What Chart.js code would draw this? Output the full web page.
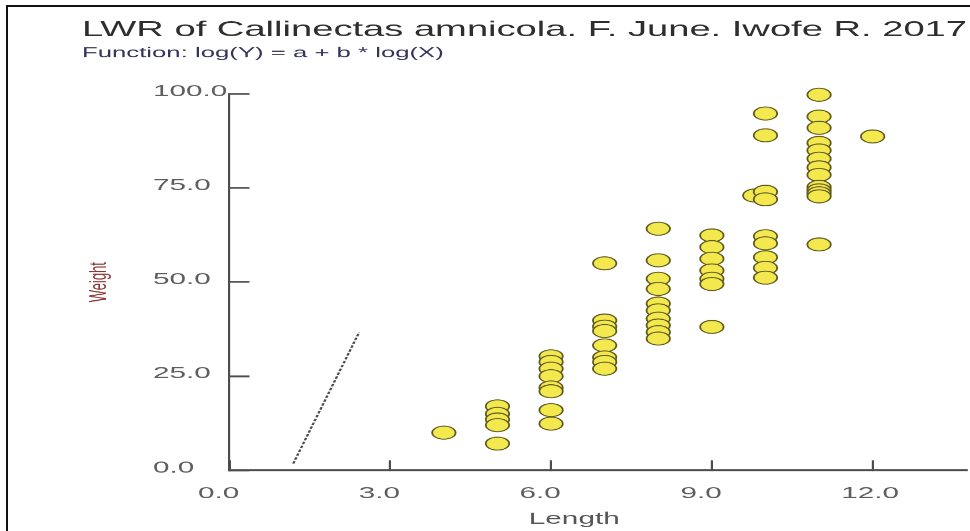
<!DOCTYPE html>
<html>
<head>
<meta charset="utf-8">
<title>LWR of Callinectas amnicola</title>
<script src="https://cdn.jsdelivr.net/npm/chart.js@4.4.1/dist/chart.umd.min.js"></script>
<style>
  html, body { margin: 0; padding: 0; background: #fff; }
  #stage { position: relative; width: 970px; height: 531px; overflow: hidden; }
  /* the chart is laid out in a narrower box and widened on screen */
  #plot { position: absolute; left: 0; top: 0; width: 970px !important; height: 531px !important; }
  #frame { position: absolute; left: 6px; top: 5px; width: 1100px; height: 700px;
           border-left: 2.5px solid #111; border-top: 2.5px solid #111; pointer-events: none; }
</style>
</head>
<body>
<div id="stage">
  <canvas id="plot" width="539" height="531"></canvas>
  <div id="frame"></div>
</div>
<script>
// Length classes (cm) and the weights (g) recorded in each class
const lengthClasses = [4, 5, 6, 7, 8, 9, 9.8, 10, 11, 12];
const weightsByClass = [
  [10],
  [17, 15, 13.5, 12, 7.1],
  [30.3, 28.8, 27, 25, 22, 21, 16, 12.4],
  [55, 39.8, 38.2, 37, 33.2, 30, 28.8, 27],
  [64.2, 55.8, 50.9, 48.2, 44.3, 42.5, 40.3, 38.5, 36.7, 35],
  [62.4, 59.3, 56.2, 53.1, 50.9, 49.5, 38.1],
  [73],
  [94.8, 89, 74, 72, 62.2, 60.3, 56.6, 53.8, 51.2],
  [99.8, 94, 91, 87, 85, 82.8, 80.5, 78.5, 75.3, 74.4, 73.6, 72.8, 60],
  [88.7]
];

// fitted relationship segment
const fitLength = [1.19, 2.42];
const fitWeight = [1.8, 36.7];

// axis ticks
const xTicks = [0, 3, 6, 9, 12];
const yTicks = [0, 25, 50, 75, 100];
const xMax = 13.76;
const yMax = 100;

const titleText = 'LWR of Callinectas amnicola. F. June. Iwofe R. 2017';
const subtitleText = 'Function: log(Y) = a + b * log(X)';

// layout width vs. on-screen width
const W = 539;
const SX = 970 / W;
const hx = v => v / SX;   // screen px (horizontal) -> layout units

const points = [];
lengthClasses.forEach((len, i) => {
  weightsByClass[i].forEach(w => points.push({ x: len, y: w }));
});
const fitLine = fitLength.map((x, i) => ({ x, y: fitWeight[i] }));

const tickFont = { family: "'Liberation Sans', Arial, sans-serif", size: 16.5, lineHeight: 1.2 };
const axisColor = '#4d4d4d';

// nudges the "Length" caption axis a little left of the plot centre
const captionShift = {
  id: 'captionShift',
  afterLayout(chart) {
    const s = chart.scales.xName;
    if (s) { s.left -= hx(24); s.right -= hx(24); }
  }
};

new Chart(document.getElementById('plot'), {
  type: 'scatter',
  data: {
    datasets: [
      {
        label: 'Observed',
        data: points,
        pointStyle: 'circle',
        pointRadius: 6.5,
        pointHoverRadius: 6.5,
        pointBorderWidth: 1,
        backgroundColor: '#f3e84e',
        borderColor: '#5f5a20',
        clip: false,
        order: 1
      },
      {
        type: 'line',
        label: 'Fit',
        data: fitLine,
        borderColor: '#4a4a4a',
        borderWidth: 1.3,
        borderDash: [2.5, 1.5],
        pointRadius: 0,
        fill: false,
        clip: false,
        order: 2
      }
    ]
  },
  plugins: [captionShift],
  options: {
    responsive: false,
    devicePixelRatio: SX,
    animation: false,
    events: [],
    layout: { autoPadding: false, padding: { left: hx(82), right: hx(3), top: 0, bottom: 0 } },
    plugins: {
      legend: { display: false },
      tooltip: { enabled: false },
      title: {
        display: true,
        text: titleText,
        align: 'start',
        color: '#2e2e2e',
        font: { family: "'Liberation Sans', Arial, sans-serif", size: 21.2, weight: 'normal', lineHeight: 1.1 },
        padding: { top: 18.8, bottom: 0 }
      },
      subtitle: {
        display: true,
        text: subtitleText,
        align: 'start',
        color: '#34345c',
        font: { family: "'Liberation Sans', Arial, sans-serif", size: 14.3, weight: 'normal', lineHeight: 1.2 },
        padding: { top: 2.6, bottom: 32 }
      }
    },
    scales: {
      x: {
        type: 'linear',
        position: 'bottom',
        weight: 0,
        min: 0,
        max: xMax,
        afterBuildTicks: s => { s.ticks = xTicks.map(v => ({ value: v })); },
        afterFit: s => { s.height = 39; s.paddingLeft = 0; s.paddingRight = 0; },
        ticks: {
          callback: v => Number(v).toFixed(1),
          align: 'start',
          labelOffset: hx(-31.5),
          padding: 23.4,
          maxRotation: 0,
          autoSkip: false,
          color: '#5e5e5e',
          font: tickFont
        },
        grid: { drawOnChartArea: false, drawTicks: true, tickLength: -10, tickWidth: 1.2, tickColor: axisColor },
        border: { display: true, color: axisColor, width: 1.8 }
      },
      xName: {
        type: 'linear',
        position: 'bottom',
        weight: 1,
        afterFit: s => { s.height = 22; s.paddingLeft = 0; s.paddingRight = 0; },
        ticks: { display: false },
        grid: { display: false, drawTicks: false },
        border: { display: false },
        title: {
          display: true,
          text: 'Length',
          color: '#555555',
          font: tickFont,
          padding: { top: 0, bottom: 2.1 }
        }
      },
      y: {
        type: 'linear',
        position: 'left',
        weight: 0,
        min: 0,
        max: yMax,
        afterBuildTicks: s => { s.ticks = yTicks.map(v => ({ value: v })); },
        afterFit: s => { s.width = hx(229.5 - 153); s.paddingTop = 0; s.paddingBottom = 0; },
        ticks: {
          callback: v => Number(v).toFixed(1),
          crossAlign: 'far',
          labelOffset: -2.5,
          padding: 0,
          autoSkip: false,
          color: '#5e5e5e',
          font: tickFont
        },
        grid: { drawOnChartArea: false, drawTicks: true, tickLength: -hx(20), tickWidth: 1.8, tickColor: axisColor },
        border: { display: true, color: axisColor, width: 1.2 }
      },
      yName: {
        type: 'linear',
        position: 'left',
        weight: 1,
        afterFit: s => { s.width = hx(153 - 82); },
        ticks: { display: false },
        grid: { display: false, drawTicks: false },
        border: { display: false },
        title: {
          display: true,
          text: 'Weight',
          color: '#8a3636',
          font: { family: "'Liberation Sans', Arial, sans-serif", size: 13, lineHeight: 1.2 },
          padding: { top: hx(99.5 - 82) - 7.8, bottom: 0 }
        }
      }
    }
  }
});
</script>
</body>
</html>
